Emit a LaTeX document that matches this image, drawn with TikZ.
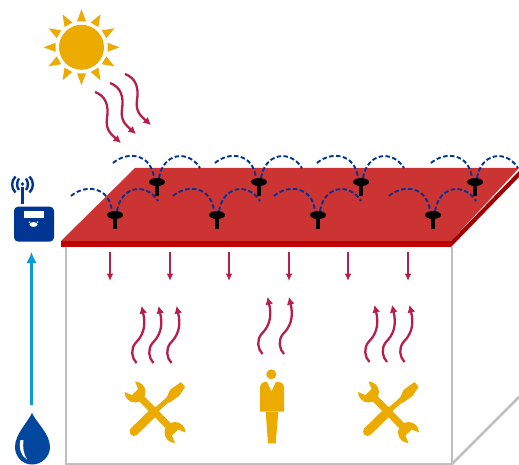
\documentclass[tikz,border=0pt]{standalone}
\usetikzlibrary{arrows.meta}
\definecolor{sunc}{HTML}{EBAB00}
\definecolor{crim}{HTML}{B81E4A}
\definecolor{navy}{HTML}{003594}
\definecolor{dropc}{HTML}{00479D}
\definecolor{skyb}{HTML}{0A9BDC}
\definecolor{roof}{HTML}{CC3333}
\definecolor{front}{HTML}{C00000}
\definecolor{side}{HTML}{A00000}
\definecolor{wallc}{HTML}{BFBFBF}
\tikzset{
  wave/.style={draw=crim,line width=2.3pt,-{Latex[length=7.5pt,width=8pt]}},
  downarrow/.style={draw=crim,line width=2.2pt,-{Latex[length=7.5pt,width=7pt]}},
  wall/.style={draw=wallc,line width=2.8pt},
  signal/.style={draw=navy,line width=1.9pt,dash pattern=on 4.5pt off 2.4pt},
  sensor/.pic={
    \draw[signal] (-44,-19) .. controls (-30,-31) and (-6,-29) .. (-3,-4);
    \draw[signal] (2,-4) .. controls (6,-29) and (31,-33) .. (43,-14);
    \fill[black] (-1.6,0) rectangle (1.6,14);
    \fill[black] (0,0) ellipse[x radius=8,y radius=4];
  },
  upwave/.pic={
    \draw[wave] (0,0) .. controls (-5,-5) and (-6,-14) .. (-1,-20)
      .. controls (6,-27) and (10,-36) .. (5,-57);
  },
  sunwave/.pic={
    \draw[wave] (0,0) .. controls (11,4) and (14,14) .. (12,26)
      .. controls (10,38) and (17,43) .. (26,51);
  },
  wrenchhead/.pic={
    \fill[sunc] (-7.42,7.42) .. controls (-3.32,11.52) and (3.32,11.52) .. (7.42,7.42)
      .. controls (11.52,3.32) and (11.52,-3.32) .. (7.42,-7.42)
      .. controls (3.32,-11.52) and (-3.32,-11.52) .. (-7.42,-7.42)
      -- (-0.5,-4.6) -- (2.5,0) -- (-0.5,4.6) -- cycle;
  },
  tools/.pic={
    \draw[sunc,line width=7pt] (-20,-20) -- (20,20.5);
    \pic[rotate=-45] at (-20,-20) {wrenchhead};
    \pic[rotate=135] at (20,20.5) {wrenchhead};
    \draw[sunc,line width=9pt,line cap=round] (-21,19.5) -- (0,-1);
    \draw[sunc,line width=5pt] (-2,1) -- (18,-17);
    \fill[sunc] (11,-13) -- (15,-22) -- (26,-30) -- (30,-25) -- (24,-16) -- (14,-9) -- cycle;
  }
}
\begin{document}
\begin{tikzpicture}[x=1pt,y=-1pt]
\useasboundingbox (0,0) rectangle (519,465);
% building walls
\draw[wall] (66,247) -- (66,464) -- (452,464) -- (452,247);
\draw[wall] (452,464) -- (519,397);
% roof
\fill[roof] (61,241) -- (135,168) -- (519,168) -- (451,241) -- cycle;
\fill[side] (451,241) -- (519,171) -- (519,177) -- (451,247) -- cycle;
\fill[front] (61,241) rectangle (451,247);
% sensors
\foreach \p in {(157,182),(259,182),(361,182),(475,182),(115,215),(217,215),(318,215),(433,215)}
  \pic at \p {sensor};
% sun
\fill[sunc] (81.5,47.3) circle[radius=22.5];
\foreach \a in {0,30,...,330}
  \fill[sunc,shift={(81.5,47.3)},rotate=\a] (26,-4.5) -- (38,0) -- (26,4.5) -- cycle;
% incoming radiation
\pic at (95,92) {sunwave};
\pic at (110,83) {sunwave};
\pic at (125,74) {sunwave};
% downward arrows
\foreach \x in {110,170,229,289,348,408}
  \draw[downarrow] (\x,252) -- (\x,281);
% rising heat
\foreach \x/\y in {136.5/363,153.5/363,171.5/363,262.5/354,284/354,369.5/362,387/362,404.5/362}
  \pic at (\x,\y) {upwave};
% tools
\pic at (155,412) {tools};
\pic at (388.5,412) {tools};
% person
\fill[sunc] (271.3,374.3) circle[radius=5];
\fill[sunc] (260,411.7) -- (260,388) .. controls (260,383) and (263,382) .. (267,381.7)
  -- (271.5,391.5) -- (276,381.7) .. controls (281,382) and (284,383) .. (284,388) -- (284,411.7) -- cycle;
\fill[sunc] (265.7,412) -- (278.3,412) -- (275.7,443.3) -- (268,443.3) -- cycle;
% water drop
\fill[dropc] (32,413) .. controls (28,422) and (15,434) .. (15,447)
  .. controls (15,456.7) and (22.3,464.5) .. (32,464.5)
  .. controls (41.7,464.5) and (50,456.7) .. (50,447)
  .. controls (50,434) and (36,422) .. (32,413) -- cycle;
\fill[white] (20.5,440) .. controls (18.5,448) and (21,456) .. (27,459.5)
  .. controls (23.5,454) and (22.5,447) .. (23.5,440) -- cycle;
% logger
\fill[navy,rounded corners=4pt] (14,206.7) rectangle (54,241.5);
\fill[white] (24,211) rectangle (44,217.7);
\fill[white] (33.5,224.5) ellipse[x radius=4,y radius=2.4];
\fill[white] (29.5,222.2) circle[radius=.9];
\fill[white] (37.5,222.2) circle[radius=.9];
\draw[navy,line width=2.2pt] (22.5,204) -- (22.5,187);
\fill[navy] (22.5,184) circle[radius=1.8];
\draw[navy,line width=2.4pt] (19,178.5) .. controls (16.5,182) and (16.5,187) .. (19,190);
\draw[navy,line width=2.4pt] (15.5,176.5) .. controls (11,181) and (11,188) .. (15.5,192.5);
\draw[navy,line width=2.4pt] (26,178.5) .. controls (28.5,182) and (28.5,187) .. (26,190);
\draw[navy,line width=2.4pt] (29.5,176.5) .. controls (34,181) and (34,188) .. (29.5,192.5);
% measurement arrow
\coordinate (dropTop) at (31.5,405);
\coordinate (loggerBottom) at (31.5,252);
\draw[draw=skyb,line width=3.4pt,-{Latex[length=11pt,width=10.5pt]}] (dropTop) -- (loggerBottom);
\end{tikzpicture}
\end{document}
